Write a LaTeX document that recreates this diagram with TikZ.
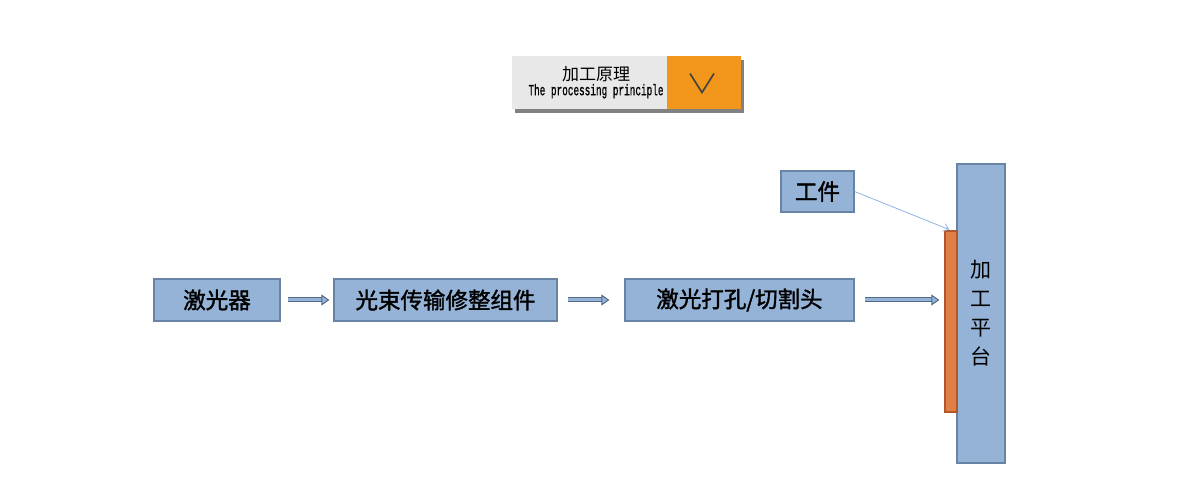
\documentclass[tikz,border=0pt]{standalone}
\usepackage{fontspec}
\newfontfamily\cjk[FakeBold=1.6]{Noto Sans CJK SC}
\newfontfamily\cjklight{Noto Sans CJK SC}
\setmonofont[FakeBold=1.2]{Liberation Mono}
\usetikzlibrary{arrows.meta,shadows}
\definecolor{boxFill}{RGB}{149,179,215}
\definecolor{boxEdge}{RGB}{104,132,164}
\definecolor{barFill}{RGB}{224,128,70}
\definecolor{barEdge}{RGB}{178,88,40}
\definecolor{pipeFill}{RGB}{149,179,215}
\definecolor{pipeEdge}{RGB}{82,106,136}
\definecolor{pointLine}{RGB}{141,179,226}
\definecolor{headGray}{RGB}{232,232,232}
\definecolor{headOrange}{RGB}{243,150,28}

\begin{document}
\begin{tikzpicture}
[x=1pt,y=-1pt,
  boxDecorate/.style={shape=rectangle,draw=boxEdge,fill=boxFill,line width=1.3pt,inner sep=0pt,%
    font=\cjk\fontsize{22.5}{29}\selectfont},%
  barDecorate/.style={shape=rectangle,draw=barEdge,fill=barFill,line width=1.3pt,inner sep=0pt},%
  pipeDecorate/.style={draw=pipeEdge,line width=1pt,double=pipeFill,double distance=3pt,%
    -{Triangle[length=8pt,width=11pt,fill=pipeFill]}},%
  pointDecorate/.style={draw=pointLine,line width=0.8pt,-{Straight Barb[length=5pt,width=8pt]}},%
  headDecorate/.style={shape=rectangle,inner sep=0pt,minimum height=53,%
    drop shadow={shadow xshift=3pt,shadow yshift=-4pt,fill=black!70,opacity=0.7}}]
\useasboundingbox (0,0) rectangle (1200,478);
%% header
\node (title) at (589.5,82.5) [headDecorate,fill=headGray,minimum width=155] {};
\node (toggle) at (704,82.5) [headDecorate,fill=headOrange,minimum width=74] {};
\node (titleText) at (596,82.5) [align=center,inner sep=0pt]
  {{\cjklight\fontsize{17}{20}\selectfont 加工原理}\\[1pt]
   \scalebox{0.67}[1.1]{\ttfamily\fontsize{14}{14}\selectfont The processing principle}};
\draw[line width=1.6pt,black!75] ([shift={(-14,-9)}]toggle.center)
  -- ([shift={(-2,10)}]toggle.center) -- ([shift={(10,-9)}]toggle.center);
%% boxes
\foreach \boxname/\x/\y/\w/\h/\boxtext in {laser/217/300/126/42/激光器,
  beam/445.5/300/223/42/光束传输修整组件, head/739.5/300/229/42/{激光打孔/切割头},
  workpiece/817.5/191.5/73/41/工件}
{
  \node (\boxname) at (\x,\y) [boxDecorate,minimum width=\w,minimum height=\h] {\boxtext};
}
\node (platform) at (981,313.5) [boxDecorate,font=\cjklight\fontsize{21}{29}\selectfont,%
  minimum width=48,minimum height=299,align=center] {加\\工\\平\\台};
\node (bar) at (951,321.5) [barDecorate,minimum width=12,minimum height=181] {};
%% arrows
\foreach \startnode/\endnode/\gapa/\gapb in {laser/beam/7/4, beam/head/10/15, head/bar/10/5}
{
  \draw[pipeDecorate,shorten <=\gapa,shorten >=\gapb]
    (\startnode.east) -- (\startnode.east -| \endnode.west);
}
\draw[pointDecorate,shorten >=2pt] (workpiece.east) -- (bar.north);
\end{tikzpicture}
\end{document}
